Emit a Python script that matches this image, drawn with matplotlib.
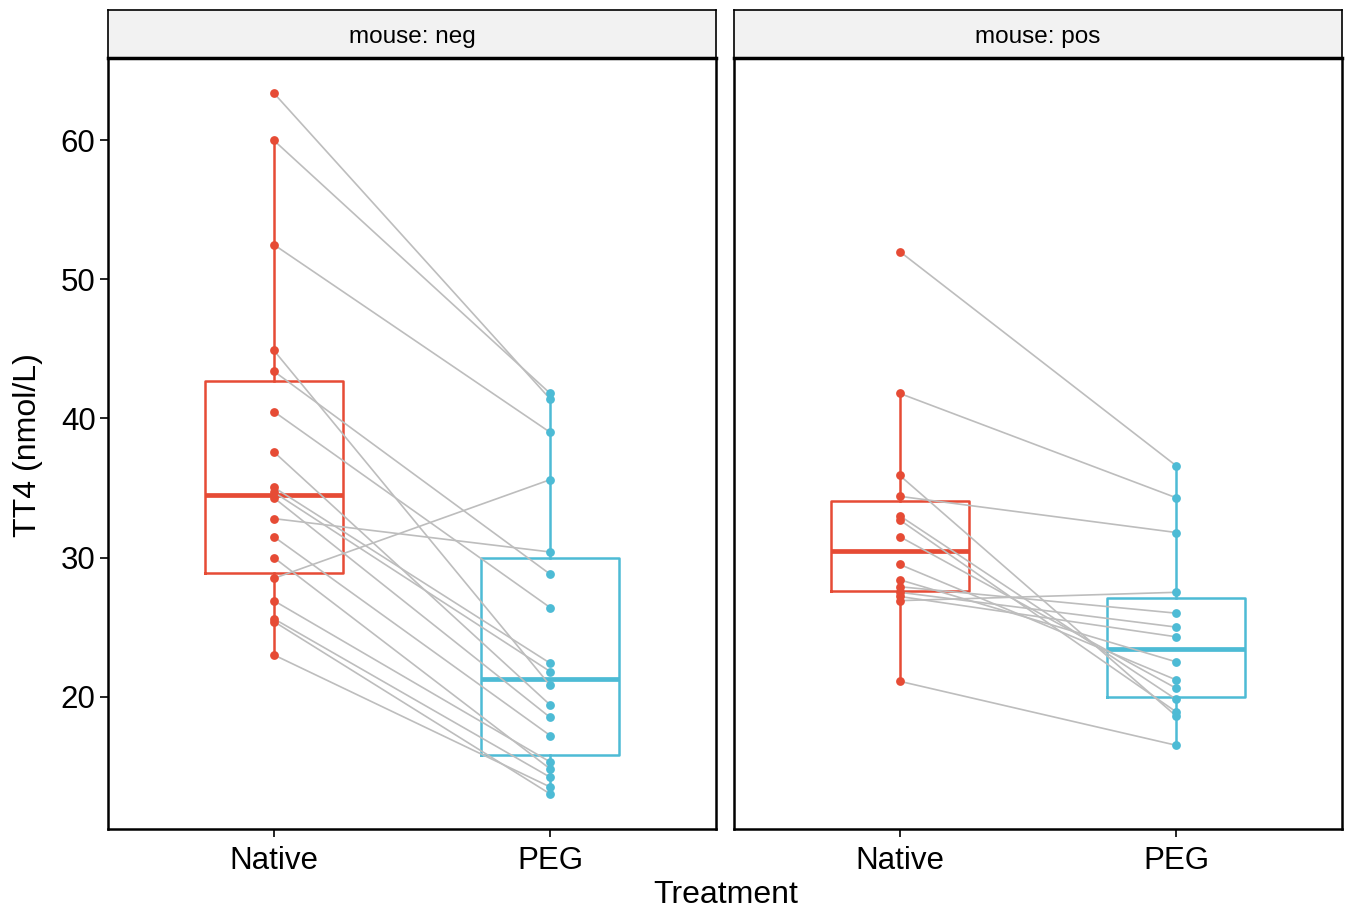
import numpy as np
import matplotlib
matplotlib.use('Agg')
import matplotlib.pyplot as plt

plt.rcParams['font.family'] = ['Liberation Sans', 'DejaVu Sans']

# Data: paired TT4 values (Native -> PEG) per mouse group
treatments = ['Native', 'PEG']
panels = ['mouse: neg', 'mouse: pos']

neg_native = [63.4, 60.0, 52.5, 44.9, 43.4, 40.5, 37.6, 35.05, 34.7, 34.3,
              32.8, 31.5, 30.0, 28.5, 26.9, 25.6, 25.4, 23.0]
neg_peg = [41.4, 41.8, 39.0, 20.8, 28.8, 26.4, 19.4, 22.4, 21.8, 18.5,
           30.4, 17.2, 14.8, 35.6, 15.3, 14.2, 13.0, 13.5]

pos_native = [52.0, 41.8, 35.9, 34.4, 33.0, 32.7, 31.5, 29.5, 28.4, 27.9,
              27.5, 27.2, 26.9, 21.1]
pos_peg = [36.6, 34.3, 18.6, 31.8, 19.8, 18.9, 20.6, 21.2, 22.5, 26.0,
           25.0, 24.3, 27.5, 16.5]

groups = [(neg_native, neg_peg), (pos_native, pos_peg)]
colors = ['#E64B35', '#4DBBD5']

W, H = 1345, 911
fig = plt.figure(figsize=(W / 100, H / 100), dpi=100)

def px_axes(x0, y0, x1, y1):
    return fig.add_axes([x0 / W, 1 - y1 / H, (x1 - x0) / W, (y1 - y0) / H])

lefts = [108, 734]
ylim = (10.48, 65.92)

for i, (nat, peg) in enumerate(groups):
    ax = px_axes(lefts[i], 58, lefts[i] + 608, 829)
    # boxes
    for j, vals in enumerate([nat, peg]):
        c = colors[j]
        ax.boxplot(vals, positions=[j + 1], widths=0.5, whis=1.5,
                   showfliers=False, patch_artist=False, zorder=1,
                   boxprops=dict(color=c, linewidth=1.8),
                   whiskerprops=dict(color=c, linewidth=1.8),
                   capprops=dict(linewidth=0),
                   medianprops=dict(color=c, linewidth=3.4))
    # paired lines
    for a, b in zip(nat, peg):
        ax.plot([1, 2], [a, b], color='#BDBDBD', linewidth=1.2, zorder=2)
    # points
    ax.scatter(np.ones(len(nat)), nat, s=40, color=colors[0], zorder=3, linewidths=0)
    ax.scatter(np.full(len(peg), 2), peg, s=40, color=colors[1], zorder=3, linewidths=0)

    ax.set_xlim(0.4, 2.6)
    ax.set_ylim(*ylim)
    ax.set_xticks([1, 2])
    ax.set_xticklabels(treatments, fontsize=22.5)
    ax.set_yticks([20, 30, 40, 50, 60])
    if i == 0:
        ax.tick_params(axis='y', labelsize=22.5, length=6, width=1.2,
                       colors='black', pad=3)
    else:
        ax.tick_params(axis='y', left=False, labelleft=False)
    ax.tick_params(axis='x', length=6, width=1.2, pad=6)
    for s in ax.spines.values():
        s.set_linewidth(1.8)
        s.set_color('black')

    # facet strip
    st = px_axes(lefts[i], 10, lefts[i] + 608, 58)
    st.set_facecolor('#F2F2F2')
    st.set_xticks([])
    st.set_yticks([])
    for s in st.spines.values():
        s.set_linewidth(1.2)
    st.spines['bottom'].set_linewidth(2.5)
    st.text(0.5, 0.44, panels[i], ha='center', va='center', fontsize=17.5,
            transform=st.transAxes)

fig.text(28 / W, 1 - 445 / H, 'TT4 (nmol/L)', rotation=90, ha='center',
         va='center', fontsize=23)
fig.text(726 / W, 1 - 895 / H, 'Treatment', ha='center', va='center', fontsize=23)

fig.savefig('out.png', dpi=100, facecolor='white')
